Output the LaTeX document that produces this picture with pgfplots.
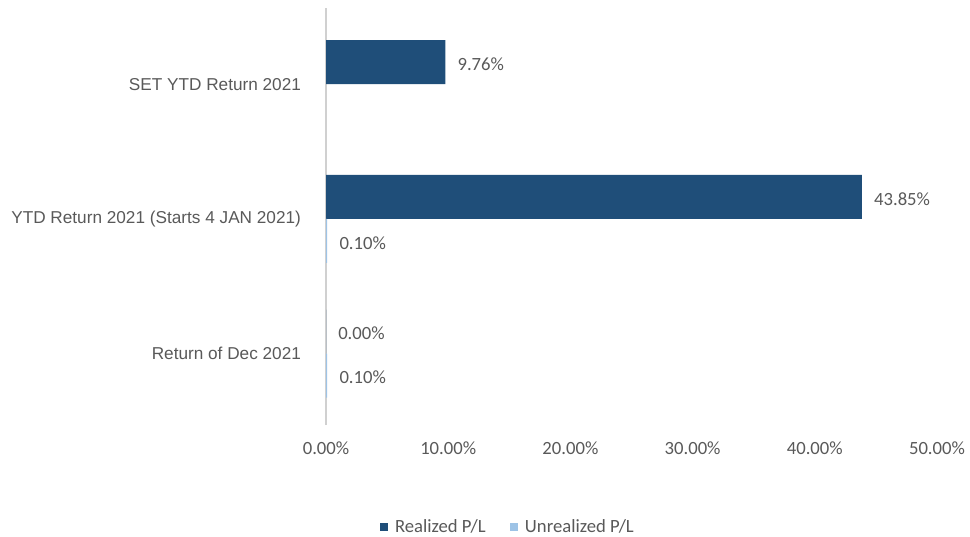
\documentclass[border=0pt]{standalone}
\usepackage{fontspec}
\setmainfont{Carlito}
\newfontfamily\arialf{Liberation Sans}
\usepackage{pgfplots}
\pgfplotsset{compat=1.18}
\definecolor{realc}{HTML}{1F4E79}
\definecolor{unrc}{HTML}{9DC3E6}
\definecolor{txtc}{HTML}{595959}
\definecolor{axc}{HTML}{D0D0D0}
\begin{document}
\begin{tikzpicture}
\begin{axis}[
  scale only axis,
  width=458.25pt, height=312.75pt,
  xmin=0, xmax=50,
  ymin=-0.53, ymax=2.566,
  xbar, bar width=33pt,
  axis lines*=left,
  x axis line style={draw=none},
  y axis line style={draw=axc, line width=0.8pt, -},
  tick style={draw=none},
  xtick={0,10,20,30,40,50},
  xticklabels={0.00\%,10.00\%,20.00\%,30.00\%,40.00\%,50.00\%},
  ytick={0,1,2},
  yticklabels={Return of Dec 2021, YTD Return 2021 (Starts 4 JAN 2021), SET YTD Return 2021},
  xticklabel style={font=\fontsize{14}{16}\selectfont, text=txtc, yshift=-9pt},
  yticklabel style={font=\arialf\fontsize{12.9}{15}\selectfont, text=txtc, xshift=-11pt},
  /pgf/number format/assume math mode=true,
  point meta=x,
  nodes near coords={\pgfmathprintnumber[fixed,fixed zerofill,precision=2]{\pgfplotspointmeta}\%},
  nodes near coords style={font=\fontsize{14}{16}\selectfont, text=txtc, anchor=west, inner sep=0pt, xshift=9pt, yshift=-1.5pt},
  legend style={at={(0.298,-0.2446)}, anchor=center, draw=none, legend columns=2,
    font=\fontsize{14}{16}\selectfont, text=txtc,
    /tikz/every odd column/.append style={column sep=3pt},
    /tikz/every even column/.append style={column sep=16pt}},
  legend image code/.code={\fill[#1] (0pt,-3.2pt) rectangle (6.5pt,3.3pt);},
  clip=false,
]
\addplot[draw=none, fill=realc, bar shift=16.5pt] coordinates {(0.00,0) (43.85,1) (9.76,2)};
\addplot[draw=none, fill=unrc, bar shift=-16.5pt] coordinates {(0.10,0) (0.10,1)};
\legend{Realized P/L, Unrealized P/L}
\coordinate (bl) at (rel axis cs:-0.5336,-0.2662);
\coordinate (tr) at (rel axis cs:1.054,1.0192);
\end{axis}
\pgfresetboundingbox
\useasboundingbox (bl) rectangle (tr);
\end{tikzpicture}
\end{document}
